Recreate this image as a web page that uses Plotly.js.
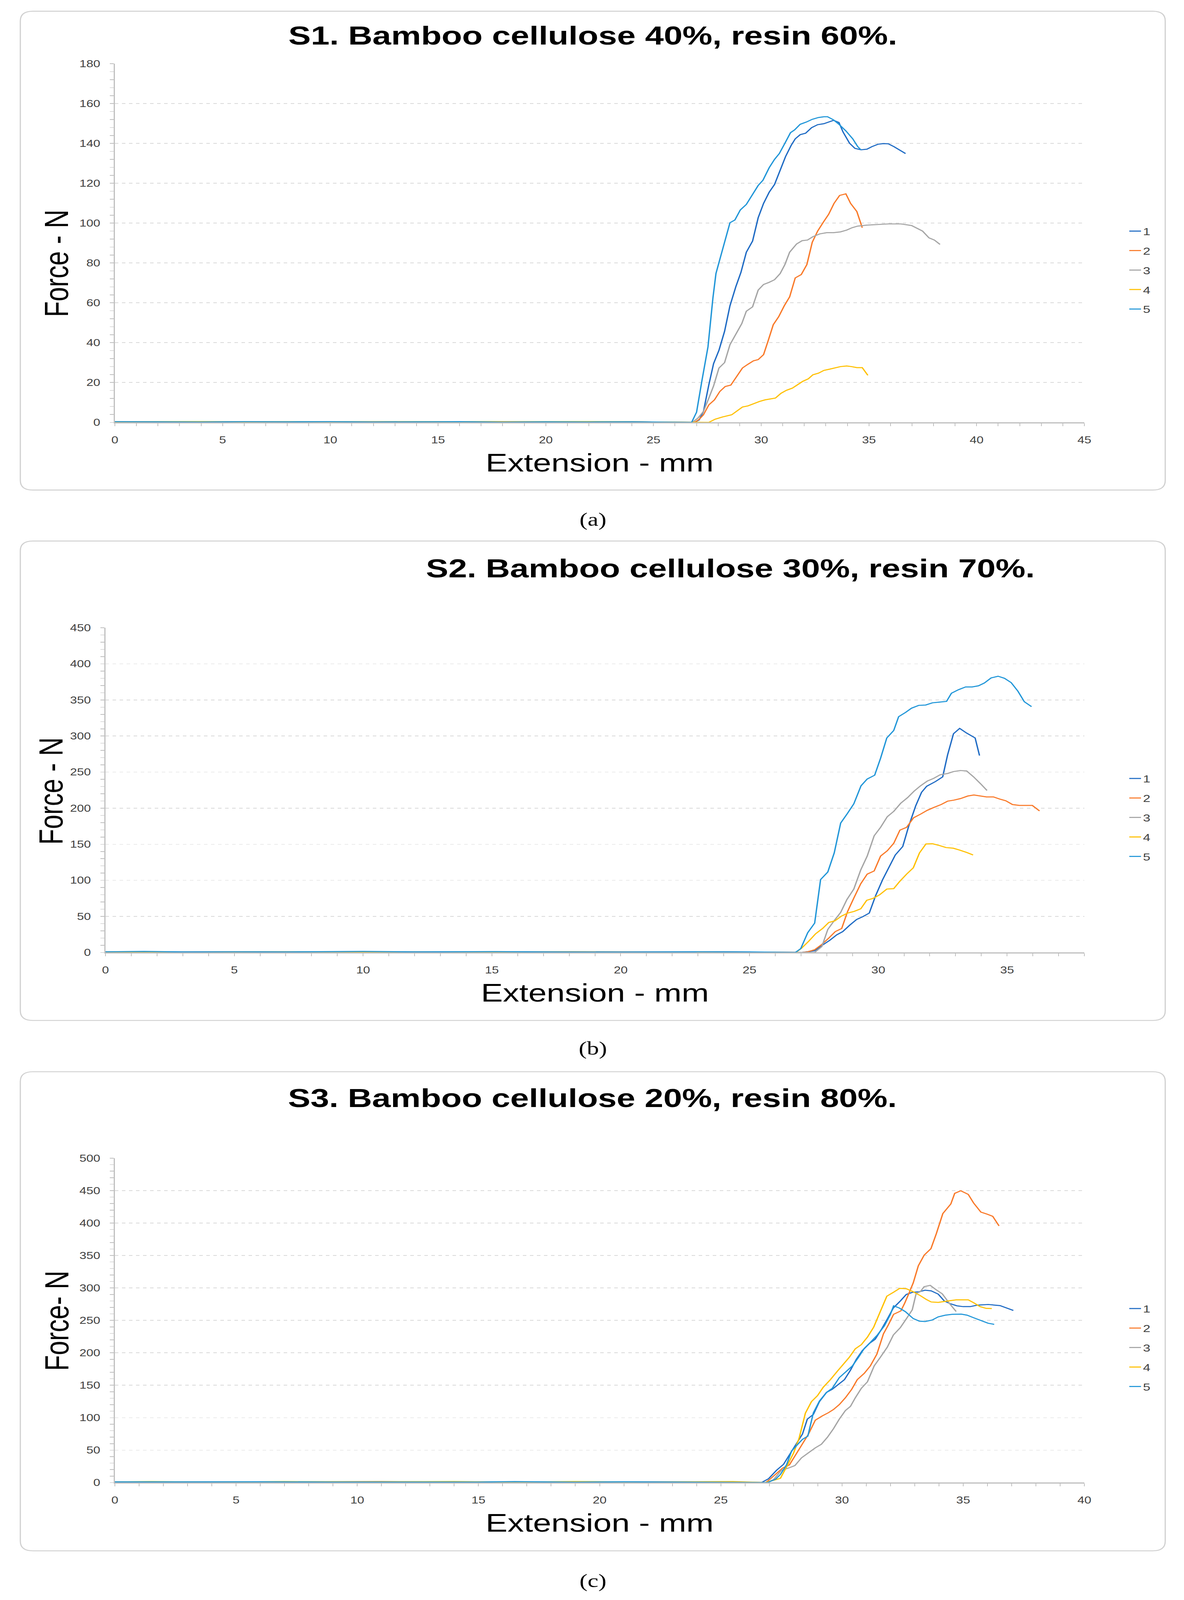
<!DOCTYPE html>
<html>
<head>
<meta charset="utf-8">
<script src="https://cdn.plot.ly/plotly-3.0.1.min.js"></script>
<style>
  html, body { margin: 0; padding: 0; background: #fff; overflow: hidden; }
  #wrap { width: 3030px; overflow: hidden; }
  #chart { width: 3030px; height: 5273px; transform-origin: 0 0; }
</style>
</head>
<body>
<div id="wrap"><div id="chart"></div></div>
<script>
W = 3030;
H = 5273;

// series names / colours (same for all three panels)
const names = ["1", "2", "3", "4", "5"];
const colors = ["#1f6bc4", "#f97a2a", "#a5a5a5", "#ffc000", "#2196d8"];

// ---- S1 panel (a) ----
const a1x = [0, 3, 6, 9, 12, 15, 18, 21, 24, 26.9, 27.12, 27.32, 27.57, 27.79, 28.04, 28.3, 28.55, 28.82, 29.06, 29.31, 29.6, 29.86, 30.11, 30.37, 30.62, 30.88, 31.13, 31.39, 31.58, 31.81, 32.06, 32.34, 32.62, 32.91, 33.13, 33.36, 33.61, 33.8, 34.1, 34.35, 34.63, 34.91, 35.14, 35.42, 35.67, 35.9, 36.16, 36.41, 36.7];
const a1y = [0.3, 0.2, 0.3, 0.2, 0.3, 0.2, 0.3, 0.2, 0.3, 0, 1.2, 5.5, 18.9, 29.5, 36.2, 45.7, 58.5, 68, 75.3, 85.4, 91, 102.7, 109.9, 115.5, 119.4, 126.7, 133.4, 139, 142.3, 144.4, 145.1, 147.9, 149.4, 149.9, 150.7, 151.6, 150.5, 145.7, 140.1, 137.5, 136.8, 137.1, 138.4, 139.6, 139.9, 139.8, 138.4, 136.8, 134.9];
const a2x = [0, 3, 6, 9, 12, 15, 18, 21, 24, 26.9, 27.12, 27.32, 27.57, 27.83, 28.08, 28.33, 28.59, 28.84, 29.13, 29.39, 29.64, 29.86, 30.11, 30.33, 30.56, 30.81, 31.07, 31.32, 31.58, 31.86, 32.12, 32.37, 32.62, 32.88, 33.13, 33.38, 33.64, 33.93, 34.15, 34.44, 34.69];
const a2y = [0.2, 0.4, 0.3, 0.2, 0.3, 0.4, 0.3, 0.2, 0.3, 0, 1.5, 3.8, 8.8, 11.3, 15.5, 18, 18.7, 22.8, 27.3, 29.2, 30.9, 31.5, 34, 41.2, 49, 53, 58.5, 63, 72.5, 74.2, 79.2, 90.4, 96, 100.4, 104.4, 109.9, 113.9, 114.7, 109.9, 105.8, 97.7];
const a3x = [0, 3, 6, 9, 12, 15, 18, 21, 24, 26.8, 27.06, 27.32, 27.57, 27.79, 28.04, 28.3, 28.55, 28.84, 29.1, 29.31, 29.6, 29.86, 30.11, 30.37, 30.62, 30.88, 31.1, 31.32, 31.64, 31.9, 32.15, 32.4, 32.72, 33.04, 33.36, 33.68, 33.97, 34.22, 34.48, 34.89, 35.4, 35.9, 36.48, 36.98, 37.49, 37.79, 38.04, 38.3];
const a3y = [0.2, 0.3, 0.2, 0.3, 0.2, 0.3, 0.2, 0.3, 0.2, 0, 2.1, 5.5, 12.2, 18.3, 27.3, 30, 39, 44.6, 49.6, 55.8, 58, 66.4, 69.2, 70.3, 71.6, 74.7, 79.2, 85.4, 89.5, 91.2, 91.5, 93.2, 94.6, 95.2, 95.2, 95.6, 96.5, 97.7, 98.5, 99, 99.3, 99.6, 99.6, 98.8, 96, 92.6, 91.5, 89.3];
const a4x = [0, 3, 6, 9, 12, 15, 18, 21, 24, 27.0, 27.57, 27.86, 28.2, 28.63, 28.84, 29.13, 29.39, 29.67, 29.92, 30.18, 30.43, 30.66, 30.92, 31.17, 31.45, 31.7, 31.93, 32.19, 32.4, 32.66, 32.91, 33.17, 33.42, 33.68, 33.97, 34.19, 34.44, 34.69, 34.95];
const a4y = [0.3, 0.4, 0.3, 0.4, 0.3, 0.4, 0.3, 0.4, 0.3, 0, 0, 1.6, 2.7, 3.8, 5.5, 7.7, 8.3, 9.4, 10.5, 11.3, 11.8, 12.2, 14.6, 16.1, 17.2, 18.9, 20.6, 21.9, 23.9, 24.7, 26.1, 26.7, 27.3, 28, 28.3, 28, 27.5, 27.5, 23.6];
const a5x = [0, 2, 4, 6, 8, 10, 12, 14, 16, 18, 20, 22, 24, 26.77, 27.0, 27.25, 27.53, 27.76, 27.9, 28.1, 28.3, 28.55, 28.78, 29.03, 29.31, 29.57, 29.86, 30.08, 30.37, 30.62, 30.84, 31.1, 31.36, 31.55, 31.81, 32.09, 32.37, 32.66, 32.91, 33.08, 33.36, 33.61, 33.93, 34.25, 34.48, 34.63];
const a5y = [0.4, 0.3, 0.2, 0.4, 0.3, 0.4, 0.2, 0.3, 0.4, 0.1, 0.3, 0.2, 0.3, 0, 5.1, 21, 37.9, 62.5, 74.7, 82.6, 90.4, 100.2, 101.6, 106.6, 109.4, 113.9, 118.9, 121.5, 127.8, 132, 134.9, 140.1, 145.4, 146.8, 149.6, 150.7, 152.1, 153, 153.4, 153.4, 151.8, 149.6, 146.3, 142.3, 138.4, 136.8];

// ---- S2 panel (b) ----
const b1x = [0, 3, 6, 9, 12, 15, 18, 21, 24, 27.03, 27.53, 27.81, 28.12, 28.39, 28.62, 28.89, 29.16, 29.4, 29.65, 29.9, 30.17, 30.43, 30.66, 30.95, 31.18, 31.45, 31.68, 31.88, 32.22, 32.5, 32.69, 32.92, 33.16, 33.43, 33.76, 33.93];
const b1y = [0.8, 0.5, 1, 0.6, 0.8, 0.5, 0.8, 0.6, 0.8, 0, 2.4, 9.7, 17, 24.5, 28.9, 37.8, 45.7, 49.6, 54.6, 79, 101, 118.9, 135.1, 146.9, 175, 203, 222, 230.4, 236.9, 243.4, 273.7, 303.2, 310.6, 304.1, 297.3, 272.9];
const b2x = [0, 3, 6, 9, 12, 15, 18, 21, 24, 27.03, 27.26, 27.53, 27.81, 28.08, 28.33, 28.58, 28.81, 29.06, 29.32, 29.57, 29.84, 30.09, 30.35, 30.6, 30.84, 31.1, 31.37, 31.64, 31.9, 32.15, 32.44, 32.69, 32.94, 33.19, 33.47, 33.71, 33.97, 34.2, 34.47, 34.71, 34.95, 35.21, 35.48, 35.75, 35.98, 36.26];
const b2y = [0.5, 0.8, 1, 0.8, 0.6, 0.8, 1, 0.6, 0.8, 0, 1, 3.8, 11.2, 20, 28.9, 33.3, 56.9, 76.1, 95.3, 108.6, 113, 133.6, 141, 151.3, 169.6, 173.5, 186.7, 191.7, 197, 200.9, 205, 209.7, 211.2, 213.3, 216.8, 218.3, 216.8, 215.6, 215.6, 212.7, 210.3, 205, 203.8, 203.8, 203.8, 196.2];
const b3x = [0, 3, 6, 9, 12, 15, 18, 21, 24, 27.53, 27.81, 28.04, 28.31, 28.54, 28.78, 29.05, 29.32, 29.57, 29.84, 30.09, 30.35, 30.6, 30.87, 31.14, 31.39, 31.64, 31.9, 32.15, 32.4, 32.69, 32.92, 33.18, 33.43, 33.7, 33.97, 34.22];
const b3y = [0.6, 0.8, 0.5, 0.8, 0.6, 0.8, 0.5, 0.8, 0.6, 0, 8.3, 31.9, 45.1, 55.5, 73.2, 87.9, 114.5, 133.6, 161.7, 173.5, 188.2, 195.6, 206.8, 214.7, 223.6, 231, 237.5, 241.3, 246.3, 248.1, 250.7, 252.2, 251.6, 243.4, 233.9, 224.5];
const b4x = [0, 3, 6, 9, 12, 15, 18, 21, 24, 26.8, 27.03, 27.3, 27.57, 27.84, 28.08, 28.31, 28.57, 28.81, 29.06, 29.32, 29.55, 29.81, 30.05, 30.33, 30.6, 30.84, 31.1, 31.36, 31.6, 31.85, 32.1, 32.36, 32.63, 32.91, 33.16, 33.43, 33.68];
const b4y = [0.6, 0.5, 0.8, 1, 0.6, 0.5, 0.8, 0.6, 0.5, 0, 6.2, 15.6, 26, 33.3, 41.6, 43.7, 50.4, 54.6, 56.9, 60.5, 72.3, 75.2, 79.9, 87.9, 88.5, 98.8, 108.6, 117.4, 138, 150.4, 150.7, 148.4, 145.4, 144.5, 141.9, 138.6, 135.1];
const b5x = [0, 1.5, 3, 5, 7, 10, 12, 15, 17, 20, 23, 25, 26.78, 26.99, 27.26, 27.53, 27.76, 28.04, 28.29, 28.54, 28.8, 29.05, 29.33, 29.57, 29.86, 30.09, 30.33, 30.6, 30.79, 31.06, 31.29, 31.57, 31.84, 32.1, 32.38, 32.65, 32.84, 33.12, 33.39, 33.64, 33.89, 34.12, 34.38, 34.65, 34.9, 35.16, 35.42, 35.67, 35.95];
const b5y = [1, 1.5, 0.8, 1, 0.8, 1.5, 0.8, 1.2, 0.8, 0.5, 1, 0.8, 0, 5.3, 27.4, 40.7, 101, 111.5, 138, 179.4, 192.6, 206, 231, 240.4, 245.7, 269.3, 297.3, 307.7, 326.8, 332.7, 338.6, 342.5, 343, 346, 347, 348, 359.3, 364.3, 368, 368, 369.6, 373.5, 380.5, 382.9, 380, 374, 362.2, 347.5, 340.7];

// ---- S3 panel (c) ----
const c1x = [0, 3, 6, 9, 12, 15, 18, 21, 24, 26.68, 26.97, 27.3, 27.59, 27.83, 28.12, 28.37, 28.57, 28.82, 29.07, 29.36, 29.6, 29.85, 30.1, 30.35, 30.59, 30.84, 31.13, 31.37, 31.62, 31.87, 32.12, 32.41, 32.65, 32.9, 33.19, 33.43, 33.68, 33.97, 34.22, 34.46, 34.74, 35.0, 35.29, 35.58, 36.03, 36.52, 36.8, 37.07];
const c1y = [1, 0.8, 1, 0.8, 1, 0.5, 0.8, 1, 0.8, 0, 5.9, 19, 28.2, 42.7, 60.1, 74.9, 97.8, 105.1, 124.8, 138.9, 143.8, 151, 158.6, 173.3, 189.8, 203.5, 214.4, 220.9, 235.7, 252.1, 269.2, 280, 289.9, 293.2, 294.2, 296.5, 295.5, 290.5, 280, 275.8, 272.5, 271.2, 271.2, 273.5, 274.5, 272.8, 269.2, 265.3];
const c2x = [0, 3, 6, 9, 11, 14, 18, 21, 24, 26.85, 27.05, 27.3, 27.55, 27.83, 28.08, 28.33, 28.62, 28.9, 29.19, 29.44, 29.65, 29.89, 30.14, 30.39, 30.63, 30.92, 31.17, 31.44, 31.58, 31.71, 31.91, 32.13, 32.43, 32.59, 32.76, 32.94, 33.15, 33.39, 33.67, 33.89, 34.16, 34.49, 34.65, 34.9, 35.21, 35.43, 35.73, 35.99, 36.22, 36.48];
const c2y = [0.8, 1, 0.8, 1, 1.5, 1, 0.8, 1, 1.2, 0, 5.9, 14.1, 22.3, 27.2, 42, 56.8, 74.9, 96.2, 102.8, 107.7, 112.6, 120.2, 130.7, 143.1, 158.6, 168.4, 179.9, 198, 214.4, 229.2, 242.9, 259.4, 264.6, 276.8, 291.5, 307.9, 334.2, 350.6, 360.5, 383.4, 414.6, 429.4, 445.8, 449.8, 444.2, 431, 416.9, 413.7, 410.4, 395.6];
const c3x = [0, 3, 6, 9, 12, 15, 18, 21, 24, 26.85, 27.17, 27.5, 27.79, 28.06, 28.33, 28.62, 28.9, 29.15, 29.4, 29.65, 29.89, 30.14, 30.35, 30.55, 30.8, 31.05, 31.33, 31.58, 31.87, 32.12, 32.41, 32.68, 32.9, 33.06, 33.23, 33.39, 33.64, 33.89, 34.14, 34.42, 34.71];
const c3y = [0.8, 1, 0.8, 1, 0.8, 1, 1.2, 0.8, 1, 0, 4.3, 19, 22.3, 26.3, 38.1, 46, 53.5, 59.1, 69.9, 83.1, 97.8, 111, 117.5, 130.7, 145.4, 155.3, 179.9, 193, 208.8, 227.5, 239, 253.8, 266.3, 291.5, 294.2, 302, 304, 297.1, 290.9, 276.8, 263.6];
const c4x = [0, 1.5, 4, 7, 10, 14, 16, 19, 22, 25.5, 26.85, 27.17, 27.46, 27.71, 28.0, 28.23, 28.49, 28.74, 28.99, 29.23, 29.52, 29.81, 30.06, 30.3, 30.55, 30.8, 31.05, 31.31, 31.58, 31.85, 32.12, 32.38, 32.65, 32.94, 33.23, 33.48, 33.68, 33.97, 34.38, 34.71, 35.21, 35.45, 35.7, 35.95, 36.18];
const c4y = [1, 1.5, 0.8, 1.5, 1, 1.5, 0.8, 1.5, 0.8, 1.5, 0, 3.3, 6.6, 24, 45.3, 68.3, 107, 124.8, 134, 147.1, 158.6, 171.7, 182.2, 193, 206.2, 212.7, 224.2, 239.7, 263.6, 287.3, 293.2, 299.4, 298.8, 294.2, 288.2, 282.3, 278.4, 277.7, 280, 281.7, 281.7, 276.8, 271.2, 268.5, 268.2];
const c5x = [0, 2, 4, 6, 9, 12, 15, 16.5, 19, 21, 24, 26.93, 27.26, 27.46, 27.71, 27.92, 28.16, 28.37, 28.59, 28.82, 29.07, 29.36, 29.6, 29.89, 30.14, 30.43, 30.68, 30.92, 31.17, 31.46, 31.75, 31.99, 32.13, 32.36, 32.61, 32.94, 33.19, 33.43, 33.72, 33.97, 34.26, 34.55, 34.92, 35.16, 35.45, 35.74, 36.03, 36.28];
const c5y = [1, 1.2, 1, 1.2, 0.8, 0.6, 0.8, 1.5, 0.6, 1.2, 0.6, 0, 5.3, 12.5, 27.2, 48.6, 58.4, 66.6, 71.6, 107.7, 125.7, 138.9, 145.4, 161.8, 170.1, 179.9, 193, 206.8, 216, 227.5, 241.6, 258.7, 272.5, 269.2, 263.6, 252.8, 248.8, 248.2, 250.5, 255.4, 258, 259.4, 259.7, 258, 253.8, 249.8, 245.6, 243.9];

const titles = ["S1. Bamboo cellulose 40%, resin 60%.", "S2. Bamboo cellulose 30%, resin 70%.", "S3. Bamboo cellulose 20%, resin 80%."];
const yTitles = ["Force - N", "Force - N", "Force- N"];
const xTitle = "Extension - mm";
const panelLabels = ["(a)", "(b)", "(c)"];

const ARIAL = "Liberation Sans, Arial, sans-serif";

function px(x) { return x / W }
function py(y) { return 1 - y / H }

function roundedBox(l, t, r, b, rad) {
    let p = (x, y) => px(x) + "," + py(y)
    return "M" + p(l + rad, t) + " L" + p(r - rad, t) + " Q" + p(r, t) + " " + p(r, t + rad) +
        " L" + p(r, b - rad) + " Q" + p(r, b) + " " + p(r - rad, b) +
        " L" + p(l + rad, b) + " Q" + p(l, b) + " " + p(l, b - rad) +
        " L" + p(l, t + rad) + " Q" + p(l, t) + " " + p(l + rad, t) + " Z"
}

const panels = [
    { xs: [a1x, a2x, a3x, a4x, a5x], ys: [a1y, a2y, a3y, a4y, a5y] },
    { xs: [b1x, b2x, b3x, b4x, b5x], ys: [b1y, b2y, b3y, b4y, b5y] },
    { xs: [c1x, c2x, c3x, c4x, c5x], ys: [c1y, c2y, c3y, c4y, c5y] }
];

var traces = []
for (let p = 0; p < 3; p++) {
    let suffix = p == 0 ? "" : String(p + 1)
    for (let s = 0; s < 5; s++) {
        traces.push({
            x: panels[p].xs[s],
            y: panels[p].ys[s],
            type: "scatter",
            mode: "lines",
            name: names[s],
            xaxis: "x" + suffix,
            yaxis: "y" + suffix,
            legend: "legend" + suffix,
            legendgroup: "p" + p + "s" + s,
            line: { color: colors[s], width: 3.5 }
        })
    }
}

// pixel geometry of each panel (reference picture coordinates)
const geo = [
    { box: [52, 37, 2982, 1615], xl: 294, xr: 2775, yt: 210, yb: 1392, xmax: 45, ymax: 180, dy: 20, my: 4, titleX: 1517, titleY: 117, yTitleX: 145, yTitleY: 868, legY: 733, labY: 1713 },
    { box: [52, 1783, 2982, 3363], xl: 270, xr: 2775, yt: 2069, yb: 3139, xmax: 38, ymax: 450, dy: 50, my: 10, titleX: 1869, titleY: 1873, yTitleX: 131, yTitleY: 2607, legY: 2537, labY: 3455 },
    { box: [52, 3532, 2982, 5111], xl: 294, xr: 2775, yt: 3817, yb: 4886, xmax: 40, ymax: 500, dy: 50, my: 10, titleX: 1516, titleY: 3619, yTitleX: 145, yTitleY: 4353, legY: 4284, labY: 5210 }
];

var layout = {
    width: W,
    height: H,
    margin: { l: 0, r: 0, t: 0, b: 0 },
    paper_bgcolor: "#ffffff",
    plot_bgcolor: "rgba(0,0,0,0)",
    font: { family: ARIAL, color: "#404040" },
    shapes: [],
    annotations: []
}

for (let p = 0; p < 3; p++) {
    let g = geo[p]
    let suffix = p == 0 ? "" : String(p + 1)
    layout["xaxis" + suffix] = {
        domain: [px(g.xl), px(g.xr)],
        anchor: "y" + suffix,
        range: [0, g.xmax],
        dtick: 5,
        tick0: 0,
        showgrid: false,
        zeroline: false,
        showline: true,
        linecolor: "#bfbfbf",
        linewidth: 3,
        ticks: "outside",
        ticklen: 10,
        tickwidth: 2,
        tickcolor: "#bfbfbf",
        minor: { dtick: 1, ticks: "outside", ticklen: 10, tickwidth: 2, tickcolor: "#bfbfbf", showgrid: false },
        tickfont: { family: ARIAL, size: 32, color: "#404040" },
        ticklabelstandoff: 18,
        title: { text: xTitle, font: { family: ARIAL, size: 84, color: "#000" }, standoff: 28 }
    }
    layout["yaxis" + suffix] = {
        domain: [py(g.yb), py(g.yt)],
        anchor: "x" + suffix,
        range: [0, g.ymax],
        dtick: g.dy,
        tick0: 0,
        showgrid: true,
        gridcolor: "#d9d9d9",
        gridwidth: 2,
        griddash: "dash",
        zeroline: false,
        showline: true,
        linecolor: "#bfbfbf",
        linewidth: 3,
        ticks: "outside",
        ticklen: 10,
        tickwidth: 2,
        tickcolor: "#bfbfbf",
        minor: { dtick: g.my, ticks: "outside", ticklen: 10, tickwidth: 2, tickcolor: "#bfbfbf", showgrid: false },
        tickfont: { family: ARIAL, size: 32, color: "#404040" },
        ticklabelstandoff: 18
    }
    layout["legend" + suffix] = {
        x: px(2885),
        y: py(g.legY),
        xanchor: "left",
        yanchor: "top",
        bgcolor: "rgba(0,0,0,0)",
        font: { family: ARIAL, size: 34, color: "#404040" },
        tracegroupgap: 17
    }
    layout.shapes.push({
        type: "path",
        xref: "paper",
        yref: "paper",
        path: roundedBox(g.box[0], g.box[1], g.box[2], g.box[3], 32),
        line: { color: "#d0d0d0", width: 3 },
        layer: "below"
    })
    // chart title
    layout.annotations.push({
        xref: "paper", yref: "paper",
        x: px(g.titleX), y: py(g.titleY),
        xanchor: "center", yanchor: "middle",
        text: "<b>" + titles[p] + "</b>",
        showarrow: false,
        font: { family: ARIAL, size: 86, color: "#000" }
    })
    // y axis title (placed as in the source chart, not centred on the axis)
    layout.annotations.push({
        xref: "paper", yref: "paper",
        x: px(g.yTitleX), y: py(g.yTitleY),
        xanchor: "center", yanchor: "middle",
        text: yTitles[p],
        textangle: -90,
        showarrow: false,
        font: { family: ARIAL, size: 85, color: "#000" }
    })
    // panel label under the box
    layout.annotations.push({
        xref: "paper", yref: "paper",
        x: px(1517), y: py(g.labY),
        xanchor: "center", yanchor: "middle",
        text: panelLabels[p],
        showarrow: false,
        font: { family: "Liberation Serif, Times New Roman, serif", size: 62, color: "#000" }
    })
}

// the browser viewport may be shorter than the figure: squeeze it to fit
let k = Math.min(1, window.innerHeight / H)
document.getElementById("chart").style.transform = "scale(1," + k + ")"
document.getElementById("wrap").style.height = Math.floor(H * k) + "px"

Plotly.newPlot("chart", traces, layout, { displayModeBar: false, responsive: false });
</script>
</body>
</html>
